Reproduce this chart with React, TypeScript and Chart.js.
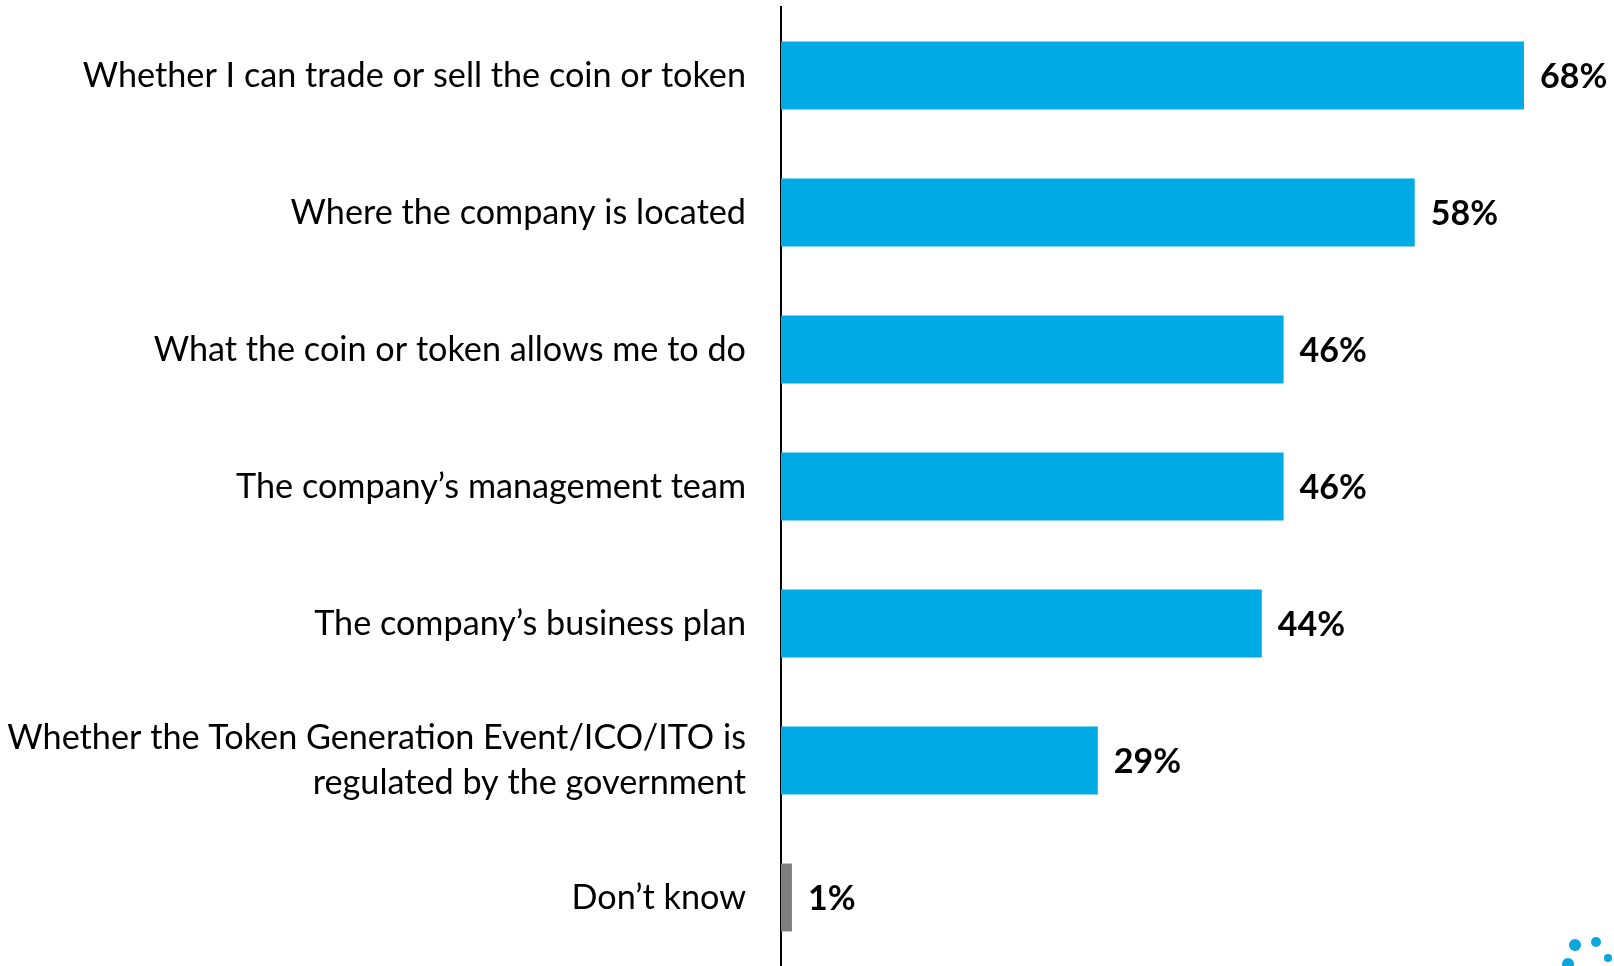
import React, { useEffect, useRef } from "react";
import { Chart, registerables } from "chart.js";

Chart.register(...registerables);

const categories: (string | string[])[] = [
  "Whether I can trade or sell the coin or token",
  "Where the company is located",
  "What the coin or token allows me to do",
  "The company\u2019s management team",
  "The company\u2019s business plan",
  ["Whether the Token Generation Event/ICO/ITO is", "regulated by the government"],
  "Don\u2019t know",
];
const values: number[] = [68, 58, 46, 46, 44, 29, 1];
const valueLabels: string[] = ["68%", "58%", "46%", "46%", "44%", "29%", "1%"];
const barColors: string[] = ["#00AAE4", "#00AAE4", "#00AAE4", "#00AAE4", "#00AAE4", "#00AAE4", "#7F7F7F"];

const FONT = "Lato, 'Open Sans', sans-serif";

const valueLabelPlugin = {
  id: "valueLabels",
  afterDatasetsDraw(chart: any) {
    const ctx = chart.ctx;
    const meta = chart.getDatasetMeta(0);
    ctx.save();
    ctx.font = `bold 34px ${FONT}`;
    ctx.fillStyle = "#000000";
    ctx.textAlign = "left";
    ctx.textBaseline = "middle";
    meta.data.forEach((bar: any, i: number) => {
      ctx.fillText(valueLabels[i], bar.x + 16, bar.y + 2);
    });
    ctx.restore();
  },
};

const logoPlugin = {
  id: "logoDots",
  afterDraw(chart: any) {
    const ctx = chart.ctx;
    ctx.save();
    ctx.fillStyle = "#0AA6E0";
    const dots = [
      [1575, 945, 6],
      [1596, 942, 5],
      [1568, 964, 6],
      [1608, 958, 4],
    ];
    dots.forEach(([x, y, r]) => {
      ctx.beginPath();
      ctx.arc(x, y, r, 0, Math.PI * 2);
      ctx.fill();
    });
    ctx.restore();
  },
};

export default function App() {
  const ref = useRef<HTMLCanvasElement | null>(null);
  useEffect(() => {
    if (!ref.current) return;
    const chart = new Chart(ref.current, {
      type: "bar",
      data: {
        labels: categories,
        datasets: [
          {
            data: values,
            backgroundColor: barColors,
            borderWidth: 0,
            barPercentage: 0.496,
            categoryPercentage: 1,
          },
        ],
      },
      options: {
        indexAxis: "y",
        animation: false,
        responsive: false,
        maintainAspectRatio: false,
        layout: { padding: { top: 7, right: 0, bottom: 0, left: 0 } },
        plugins: {
          legend: { display: false },
          tooltip: { enabled: false },
        },
        scales: {
          x: {
            min: 0,
            max: 76.24,
            display: false,
            grid: { display: false },
          },
          y: {
            afterFit: (scale: any) => {
              scale.width = 781;
              scale.paddingTop = 0;
              scale.paddingBottom = 0;
            },
            grid: { display: false, drawTicks: false },
            border: { display: true, color: "#000000", width: 2 },
            ticks: {
              padding: 35,
              color: "#000000",
              font: { family: FONT, size: 34.2, lineHeight: 1.3 },
            },
          },
        },
      },
      plugins: [valueLabelPlugin, logoPlugin],
    });
    return () => chart.destroy();
  }, []);
  return (
    <div style={{ position: "absolute", left: 0, top: 0, width: 1614, height: 966, background: "#ffffff" }}>
      <canvas ref={ref} width={1614} height={966} style={{ display: "block" }} />
    </div>
  );
}
